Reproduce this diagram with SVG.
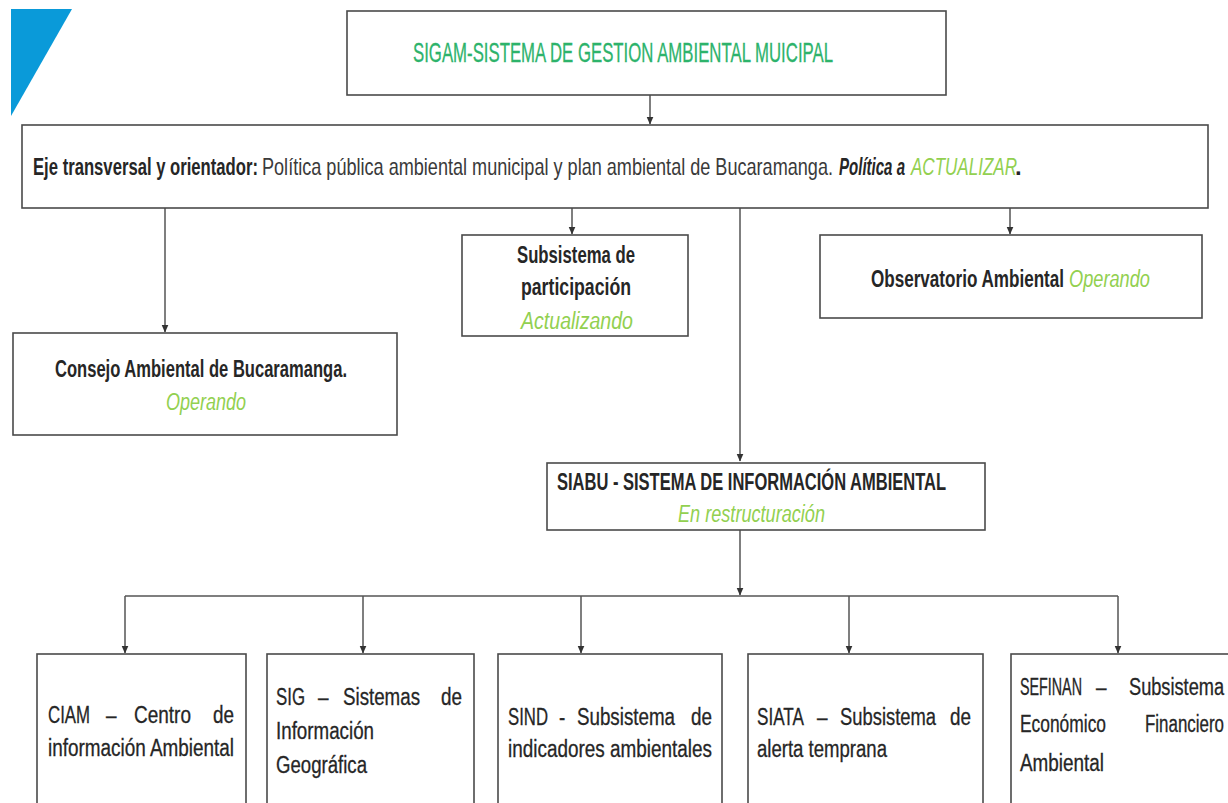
<svg xmlns="http://www.w3.org/2000/svg" width="1228" height="803" viewBox="0 0 1228 803">
  <defs>
    <marker id="arrow" viewBox="0 0 8 8" refX="7.5" refY="4" markerWidth="8" markerHeight="8" markerUnits="userSpaceOnUse" orient="auto">
      <path d="M0,0.5 L8,4 L0,7.5 Z" fill="#333"/>
    </marker>
    <style>
      .box { fill: #ffffff; stroke: #4a4a4a; stroke-width: 1.6; }
      .conn path { fill: none; stroke: #555555; stroke-width: 1.5; }
      text { font-family: "Liberation Sans", Arial, sans-serif; fill: #262626; }
      .title { font-size: 28px; fill: #2db36b; stroke: #2db36b; stroke-width: 0.3; }
      .lg { font-size: 24px; }
      .md { font-size: 23px; }
      .w { stroke: #262626; stroke-width: 0.3; }
      .b { font-weight: bold; }
      .body { fill: #3a3a3a; }
      .bi { font-weight: bold; font-style: italic; }
      .st { fill: #92d050; font-style: italic; }
    </style>
  </defs>

  <!-- corner accent -->
  <polygon points="11,9 72,9 11,116" fill="#0a9ad9"/>

  <!-- connectors -->
  <g id="connectors" class="conn">
    <path d="M650,95 V124" marker-end="url(#arrow)"/>
    <path d="M165,208 V332" marker-end="url(#arrow)"/>
    <path d="M572,208 V234" marker-end="url(#arrow)"/>
    <path d="M740,208 V461" marker-end="url(#arrow)"/>
    <path d="M1010,208 V234" marker-end="url(#arrow)"/>
    <path d="M740,530 V595" marker-end="url(#arrow)"/>
    <path d="M125,596 H1118"/>
    <path d="M125,596 V653" marker-end="url(#arrow)"/>
    <path d="M363,596 V653" marker-end="url(#arrow)"/>
    <path d="M581,596 V653" marker-end="url(#arrow)"/>
    <path d="M849,596 V653" marker-end="url(#arrow)"/>
    <path d="M1118,596 V653" marker-end="url(#arrow)"/>
  </g>

  <!-- SIGAM -->
  <g id="sigam">
    <rect class="box" x="347" y="11" width="599" height="84"/>
    <text class="title" x="413" y="62" textLength="420" lengthAdjust="spacingAndGlyphs">SIGAM-SISTEMA DE GESTION AMBIENTAL MUICIPAL</text>
  </g>

  <!-- Eje transversal -->
  <g id="eje">
    <rect class="box" x="22" y="125" width="1186" height="83"/>
    <text class="lg b" x="33" y="175" textLength="225" lengthAdjust="spacingAndGlyphs">Eje transversal y orientador:</text>
    <text class="lg body" x="262" y="175" textLength="571" lengthAdjust="spacingAndGlyphs">Política pública ambiental municipal y plan ambiental de Bucaramanga.</text>
    <text class="lg bi" x="839" y="175" textLength="66" lengthAdjust="spacingAndGlyphs">Política a</text>
    <text class="lg st" x="911" y="175" textLength="106" lengthAdjust="spacingAndGlyphs">ACTUALIZAR</text>
    <text class="lg b" x="1015" y="175">.</text>
  </g>

  <!-- Consejo Ambiental -->
  <g id="consejo">
    <rect class="box" x="13" y="333" width="384" height="102"/>
    <text class="md b" x="55" y="377" textLength="292" lengthAdjust="spacingAndGlyphs">Consejo Ambiental de Bucaramanga.</text>
    <text class="md st" x="166" y="410" textLength="80" lengthAdjust="spacingAndGlyphs">Operando</text>
  </g>

  <!-- Subsistema de participación -->
  <g id="participacion">
    <rect class="box" x="462" y="235" width="226" height="101"/>
    <text class="md b" x="517" y="263" textLength="118" lengthAdjust="spacingAndGlyphs">Subsistema de</text>
    <text class="md b" x="521" y="295" textLength="110" lengthAdjust="spacingAndGlyphs">participación</text>
    <text class="md st" x="521" y="329" textLength="112" lengthAdjust="spacingAndGlyphs">Actualizando</text>
  </g>

  <!-- Observatorio Ambiental -->
  <g id="observatorio">
    <rect class="box" x="820" y="235" width="382" height="83"/>
    <text class="md b" x="871" y="287" textLength="193" lengthAdjust="spacingAndGlyphs">Observatorio Ambiental</text>
    <text class="md st" x="1069" y="287" textLength="81" lengthAdjust="spacingAndGlyphs">Operando</text>
  </g>

  <!-- SIABU -->
  <g id="siabu">
    <rect class="box" x="547" y="463" width="438" height="67"/>
    <text class="md b" x="557" y="490" textLength="389" lengthAdjust="spacingAndGlyphs">SIABU - SISTEMA DE INFORMACIÓN AMBIENTAL</text>
    <text class="md st" x="678" y="522" textLength="147" lengthAdjust="spacingAndGlyphs">En restructuración</text>
  </g>

  <!-- CIAM (justified lines) -->
  <g id="ciam">
    <rect class="box" x="37" y="654" width="209" height="160"/>
    <text class="md w" x="48" y="723" textLength="42" lengthAdjust="spacingAndGlyphs">CIAM</text>
    <text class="md w" x="106" y="723" textLength="10.5" lengthAdjust="spacingAndGlyphs">–</text>
    <text class="md w" x="134" y="723" textLength="57" lengthAdjust="spacingAndGlyphs">Centro</text>
    <text class="md w" x="213" y="723" textLength="21" lengthAdjust="spacingAndGlyphs">de</text>
    <text class="md w" x="48" y="756" textLength="186" lengthAdjust="spacingAndGlyphs">información Ambiental</text>
  </g>

  <!-- SIG -->
  <g id="sig">
    <rect class="box" x="267" y="654" width="207" height="160"/>
    <text class="md w" x="276" y="705" textLength="29" lengthAdjust="spacingAndGlyphs">SIG</text>
    <text class="md w" x="318" y="705" textLength="10.5" lengthAdjust="spacingAndGlyphs">–</text>
    <text class="md w" x="343" y="705" textLength="77" lengthAdjust="spacingAndGlyphs">Sistemas</text>
    <text class="md w" x="441" y="705" textLength="21" lengthAdjust="spacingAndGlyphs">de</text>
    <text class="md w" x="276" y="739" textLength="98" lengthAdjust="spacingAndGlyphs">Información</text>
    <text class="md w" x="276" y="773" textLength="91" lengthAdjust="spacingAndGlyphs">Geográfica</text>
  </g>

  <!-- SIND -->
  <g id="sind">
    <rect class="box" x="498" y="654" width="224" height="160"/>
    <text class="md w" x="508" y="725" textLength="40" lengthAdjust="spacingAndGlyphs">SIND</text>
    <text class="md w" x="559" y="725" textLength="6.3" lengthAdjust="spacingAndGlyphs">-</text>
    <text class="md w" x="577" y="725" textLength="98" lengthAdjust="spacingAndGlyphs">Subsistema</text>
    <text class="md w" x="691" y="725" textLength="21" lengthAdjust="spacingAndGlyphs">de</text>
    <text class="md w" x="508" y="757" textLength="204" lengthAdjust="spacingAndGlyphs">indicadores ambientales</text>
  </g>

  <!-- SIATA -->
  <g id="siata">
    <rect class="box" x="748" y="654" width="235" height="160"/>
    <text class="md w" x="757" y="725" textLength="47" lengthAdjust="spacingAndGlyphs">SIATA</text>
    <text class="md w" x="817" y="725" textLength="10.5" lengthAdjust="spacingAndGlyphs">–</text>
    <text class="md w" x="840" y="725" textLength="96" lengthAdjust="spacingAndGlyphs">Subsistema</text>
    <text class="md w" x="950" y="725" textLength="21" lengthAdjust="spacingAndGlyphs">de</text>
    <text class="md w" x="757" y="757" textLength="130" lengthAdjust="spacingAndGlyphs">alerta temprana</text>
  </g>

  <!-- SEFINAN -->
  <g id="sefinan">
    <rect class="box" x="1011" y="654" width="240" height="160"/>
    <text class="md w" x="1020" y="695" textLength="62" lengthAdjust="spacingAndGlyphs">SEFINAN</text>
    <text class="md w" x="1096" y="695" textLength="10.5" lengthAdjust="spacingAndGlyphs">–</text>
    <text class="md w" x="1129" y="695" textLength="95" lengthAdjust="spacingAndGlyphs">Subsistema</text>
    <text class="md w" x="1020" y="732" textLength="86" lengthAdjust="spacingAndGlyphs">Económico</text>
    <text class="md w" x="1145" y="732" textLength="79" lengthAdjust="spacingAndGlyphs">Financiero</text>
    <text class="md w" x="1020" y="771" textLength="84" lengthAdjust="spacingAndGlyphs">Ambiental</text>
  </g>
</svg>
